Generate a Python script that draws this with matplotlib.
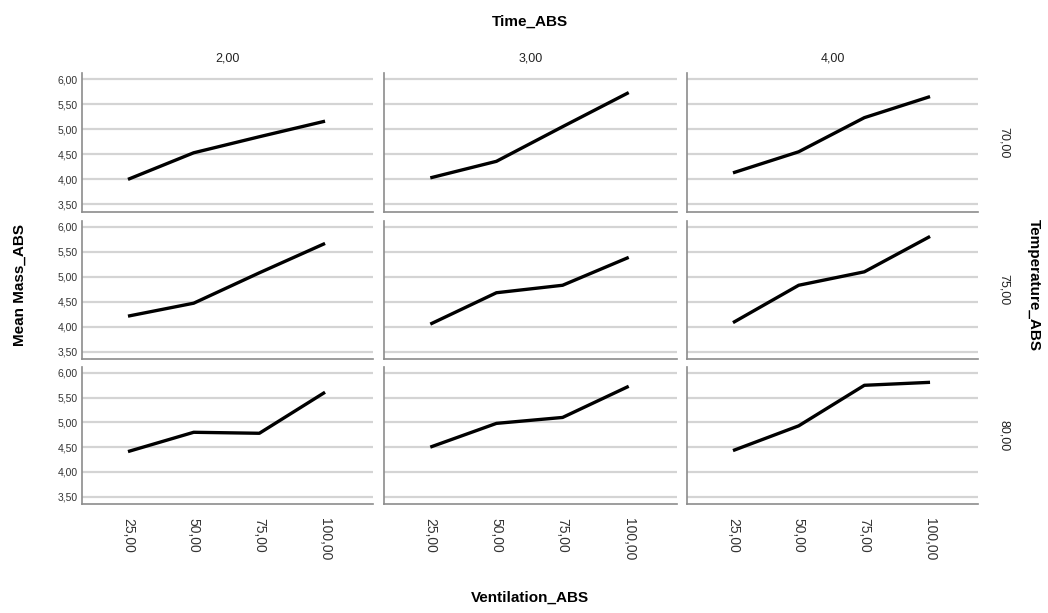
import matplotlib
matplotlib.use("Agg")
from matplotlib import pyplot as plt
from matplotlib.ticker import FuncFormatter
import numpy as np

plt.rcParams['font.family'] = ['Liberation Sans', 'DejaVu Sans']

# Facets
time_levels = ["2,00", "3,00", "4,00"]
temp_levels = ["70,00", "75,00", "80,00"]
ventilation = ["25,00", "50,00", "75,00", "100,00"]

# Mean Mass_ABS per (temperature row, time column), values along ventilation
mass_70 = [[4.00, 4.53, 4.85, 5.16],
           [4.03, 4.36, 5.05, 5.73],
           [4.13, 4.55, 5.23, 5.65]]
mass_75 = [[4.21, 4.47, 5.08, 5.67],
           [4.05, 4.68, 4.83, 5.39],
           [4.08, 4.83, 5.10, 5.81]]
mass_80 = [[4.41, 4.80, 4.78, 5.61],
           [4.50, 4.98, 5.10, 5.73],
           [4.43, 4.93, 5.75, 5.81]]
mass = [mass_70, mass_75, mass_80]

yticks = [3.5, 4.0, 4.5, 5.0, 5.5, 6.0]

W, H = 1048, 613
fig = plt.figure(figsize=(W / 100, H / 100), dpi=100)

col_x = [(82, 373), (384, 677), (687, 978)]
row_y = [(73, 212), (221, 359), (367, 504)]

comma = FuncFormatter(lambda v, p: f"{v:.2f}".replace(".", ","))
x = np.arange(len(ventilation))

for r in range(3):
    for c in range(3):
        x0, x1 = col_x[c]
        y0, y1 = row_y[r]
        ax = fig.add_axes([x0 / W, 1 - y1 / H, (x1 - x0) / W, (y1 - y0) / H])
        ax.plot(x, mass[r][c], color="black", lw=2.4, solid_capstyle="butt")
        ax.set_xlim(-0.7, 3.73)
        ax.set_ylim(3.35, 6.12)
        ax.set_yticks(yticks)
        ax.yaxis.set_major_formatter(comma)
        ax.set_xticks(x)
        ax.grid(axis="y", color="#d4d4d4", lw=1.6)
        ax.set_axisbelow(True)
        for s in ["top", "right"]:
            ax.spines[s].set_visible(False)
        for s in ["left", "bottom"]:
            ax.spines[s].set_color("#8c8c8c")
            ax.spines[s].set_linewidth(1.2)
        ax.tick_params(axis="both", length=0, colors="#333333")
        ax.tick_params(axis="y", labelsize=7.5, pad=3)
        if c != 0:
            ax.set_yticklabels([])
        if r == 2:
            ax.set_xticklabels(ventilation, rotation=270, fontsize=10, color="#333333")
            ax.tick_params(axis="x", pad=10)
        else:
            ax.set_xticklabels([])
        if r == 0:
            ax.set_title(time_levels[c], fontsize=9, color="#222222", pad=8)
        if c == 2:
            ax.text(1.09, 0.5, temp_levels[r], transform=ax.transAxes, rotation=270,
                    ha="center", va="center", fontsize=9, color="#222222")

fig.text(530 / W, 1 - 22 / H, "Time_ABS", ha="center", va="center", fontsize=11, fontweight="bold")
fig.text(530 / W, 1 - 598 / H, "Ventilation_ABS", ha="center", va="center", fontsize=11, fontweight="bold")
fig.text(20 / W, 1 - 285 / H, "Mean Mass_ABS", ha="center", va="center", rotation=90, fontsize=11, fontweight="bold")
fig.text(1034 / W, 1 - 285 / H, "Temperature_ABS", ha="center", va="center", rotation=270, fontsize=11, fontweight="bold")

fig.savefig("out.png", dpi=100)
